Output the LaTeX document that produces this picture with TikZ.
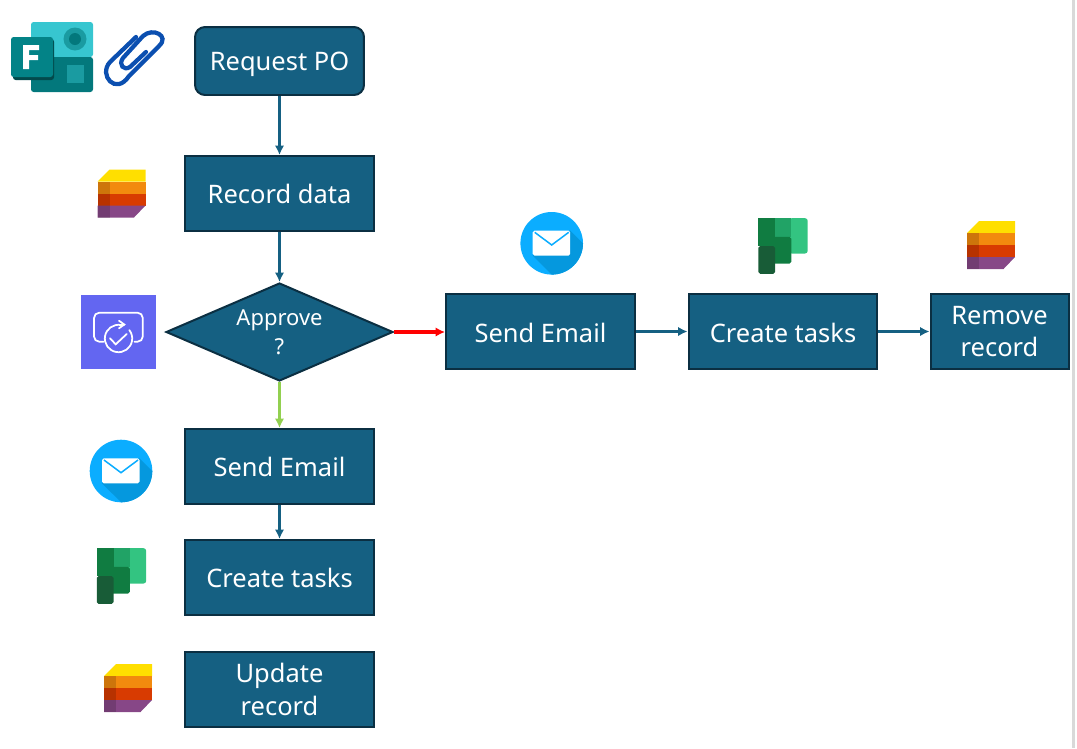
\documentclass[tikz,border=0pt]{standalone}
\usepackage{xcolor}
\usepackage{fontspec}
\setmainfont{Noto Sans}
\usetikzlibrary{shapes.geometric,arrows.meta}
\definecolor{boxfill}{HTML}{156082}
\definecolor{boxline}{HTML}{0B2F42}
\definecolor{mailblue}{HTML}{0BADFF}
\definecolor{mailshade}{HTML}{0598DE}
\definecolor{yesgreen}{HTML}{92D050}
\definecolor{listyellow}{HTML}{FFDF00}
\definecolor{listorange}{HTML}{F28A0E}
\definecolor{listred}{HTML}{D83B01}
\definecolor{listpurple}{HTML}{874787}
\definecolor{formscyan}{HTML}{37C6D0}
\definecolor{formsteal}{HTML}{03787C}
\definecolor{formsmid}{HTML}{1A9BA1}
\definecolor{formsbox}{HTML}{038387}
\definecolor{formsdark}{HTML}{024A4C}
\definecolor{planlight}{HTML}{33C481}
\definecolor{planmid}{HTML}{21A366}
\definecolor{plangreen}{HTML}{107C41}
\definecolor{plandark}{HTML}{185C37}
\definecolor{clipblue}{HTML}{0B4FB0}
\definecolor{flowviolet}{HTML}{6366F1}
\tikzset{
  flowbox/.style={draw=boxline,fill=boxfill,line width=0.04cm,text=white,align=center,
    minimum height=1.5cm,minimum width=3.78cm,inner sep=0pt,font=\fontsize{14.5}{18.7}\selectfont},
  approvebox/.style={flowbox,shape=diamond,aspect=2.33,minimum width=4.54cm,minimum height=1.96cm,
    font=\fontsize{12.5}{16.4}\selectfont},
  flowline/.style={draw=boxfill,line width=0.055cm,-{Latex[length=0.19cm,width=0.19cm]}},
  listicon/.pic={
    \fill [listyellow] (-24,12) -- (-12,24) -- (24,24) -- (24,12) -- cycle;
    \fill [listorange] (-24,0) rectangle (24,12);
    \fill [listred] (-24,-12) rectangle (24,0);
    \fill [listpurple] (-24,-24) -- (12.5,-24) -- (24,-12) -- (-24,-12) -- cycle;
    \fill [black,opacity=0.15] (-24,12) rectangle (-12,-24);
  },
  mailicon/.pic={
    \fill [mailblue] (0,0) circle (31.3);
    \begin{scope}
      \clip (0,0) circle (31.3);
      \fill [mailshade] (18.5,12.7) -- (-19,-12.3) -- (31,-62) -- (68,-37) -- cycle;
    \end{scope}
    \fill [white,rounded corners=1] (-19,12.7) rectangle (18.5,-12.3);
    \draw [mailblue,line width=0.03cm] (-17,11) -- (0,-1.7) -- (17,11);
  },
  plannericon/.pic={
    \fill [planlight,rounded corners=1.5] (6,27.8) rectangle (24.7,-7.5);
    \fill [planmid] (-8.3,27.8) rectangle (8.3,9.2);
    \fill [plangreen,rounded corners=1] (-12,9.2) rectangle (8.3,-17.5);
    \fill [plangreen] (-24.7,27.8) rectangle (-8,0);
    \fill [plandark,rounded corners=1] (-24.7,0) rectangle (-8,-27.8);
  }
}
\begin{document}
\begin{tikzpicture}[x=0.02cm,y=0.02cm]
\useasboundingbox (0,0) rectangle (1077,-748);
\draw [gray!30,line width=0.05cm] (1073.5,0) -- (1073.5,-748);
% flow boxes
\node [flowbox,rounded corners=0.2cm,minimum width=3.38cm,minimum height=1.36cm,text height=11.3pt,text depth=0pt] (request) at (279.5,-61) {Request PO};
\node [flowbox] (record) at (279.5,-193.5) {Record data};
\node [approvebox] (approve) at (279.5,-332) {Approve\\?};
\node [flowbox,text height=13pt,text depth=0pt] (mailright) at (540.5,-331.5) {Send Email};
\node [flowbox,text height=13pt,text depth=0pt] (tasksright) at (783,-331.5) {Create tasks};
\node [flowbox,minimum width=2.76cm] (remove) at (999.5,-331.5) {Remove\\record};
\node [flowbox] (maildown) at (279.5,-466.5) {Send Email};
\node [flowbox] (tasksdown) at (279.5,-577.5) {Create tasks};
\node [flowbox] (update) at (279.5,-689.5) {Update\\record};
% connectors
\draw [flowline] (request) -- (record);
\draw [flowline] (record) -- (approve);
\draw [flowline,draw=red,line width=0.07cm] (approve.east) -- (approve.east -| mailright.west);
\draw [flowline,draw=yesgreen] (approve) -- (maildown);
\draw [flowline] (mailright) -- (tasksright);
\draw [flowline] (tasksright) -- (remove);
\draw [flowline] (maildown) -- (tasksdown);
% forms icon
\fill [formscyan,rounded corners=1.5] (31,-57) -- (31,-22) -- (93,-22) -- (93,-57) -- cycle;
\fill [formsteal,rounded corners=1.5] (31,-57) -- (31,-92) -- (93,-92) -- (93,-57) -- cycle;
\fill [formsmid] (75,-39) circle (11.5);
\fill [formsteal] (75,-39) circle (6);
\fill [formsmid] (67,-65) rectangle (84,-83);
\fill [formsdark,rounded corners=1.5] (13,-39) rectangle (54,-80);
\fill [formsbox,rounded corners=1.5] (11,-37) rectangle (53,-77);
\fill [white] (23,-45) -- (39,-45) -- (39,-50) -- (29,-50) -- (29,-55) -- (38,-55) -- (38,-60) -- (29,-60) -- (29,-69) -- (23,-69) -- cycle;
% paperclip
\draw [clipblue,line width=0.085cm,line cap=round] (136,-37) -- (110,-62) .. controls (98,-75) and (116,-96) .. (129,-76)
  -- (159,-46) .. controls (170,-36) and (153,-27) .. (143,-36) -- (123,-58) .. controls (118,-65) and (124,-71) .. (130,-67) -- (146,-52);
% approvals icon
\fill [flowviolet] (81,-295) rectangle (156,-369);
\begin{scope}[shift={(118.5,-332)},draw=white,line width=0.035cm,line cap=round]
  \draw [rounded corners=3] (-15,-9.7) -- (-24.5,-9.7) -- (-24.5,19.3) -- (24.3,19.3) -- (24.3,-9.7) -- (16,-9.7);
  \draw (2.4,7) arc (80:398:13.7);
  \draw (2.4,7) -- (5.8,7.2);
  \draw (0.5,11.3) -- (5.8,7.5) -- (0.5,3.7);
  \draw (-8.5,-6.3) -- (-2.8,-12.3) -- (8.2,-2);
\end{scope}
% icons beside the boxes
\pic at (121.5,-193.5) {listicon};
\pic at (991,-245) {listicon};
\pic at (128,-688) {listicon};
\pic at (551.7,-243.3) {mailicon};
\pic at (121,-471) {mailicon};
\pic at (783,-246) {plannericon};
\pic at (121.5,-576) {plannericon};
\end{tikzpicture}
\end{document}
